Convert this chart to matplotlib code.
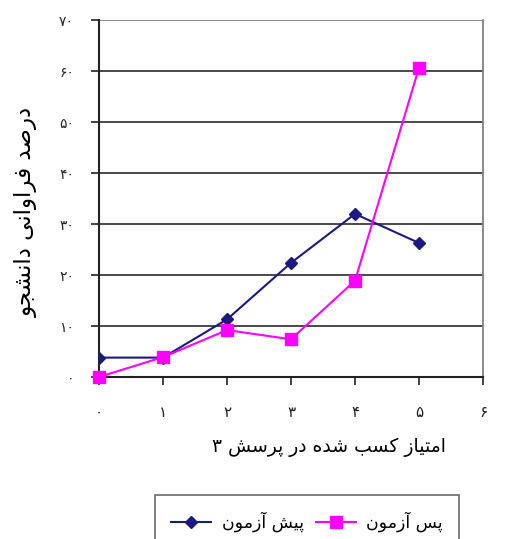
import matplotlib
matplotlib.use("Agg")
import matplotlib.pyplot as plt
from matplotlib.lines import Line2D

# Scores on question 3 and percentage of students per score
scores = [0, 1, 2, 3, 4, 5]
pre_test = [3.8, 3.8, 11.3, 22.4, 32.0, 26.3]
post_test = [0.0, 3.9, 9.2, 7.4, 18.9, 60.7]

x_ticks = [0, 1, 2, 3, 4, 5, 6]
y_ticks = [0, 10, 20, 30, 40, 50, 60, 70]

x_label = "امتیاز کسب شده در پرسش ۳"
y_label = "درصد فراوانی دانشجو"
pre_label = "پیش آزمون"
post_label = "پس آزمون"

# --- minimal Persian shaping: contextual forms + right-to-left order ---
FORMS = {  # isolated, final, initial, medial
    "ا": ("\ufe8d", "\ufe8e", None, None),
    "آ": ("\ufe81", "\ufe82", None, None),
    "ب": ("\ufe8f", "\ufe90", "\ufe91", "\ufe92"),
    "پ": ("\ufb56", "\ufb57", "\ufb58", "\ufb59"),
    "ت": ("\ufe95", "\ufe96", "\ufe97", "\ufe98"),
    "ج": ("\ufe9d", "\ufe9e", "\ufe9f", "\ufea0"),
    "د": ("\ufea9", "\ufeaa", None, None),
    "ر": ("\ufead", "\ufeae", None, None),
    "ز": ("\ufeaf", "\ufeb0", None, None),
    "س": ("\ufeb1", "\ufeb2", "\ufeb3", "\ufeb4"),
    "ش": ("\ufeb5", "\ufeb6", "\ufeb7", "\ufeb8"),
    "ص": ("\ufeb9", "\ufeba", "\ufebb", "\ufebc"),
    "ف": ("\ufed1", "\ufed2", "\ufed3", "\ufed4"),
    "ک": ("\ufb8e", "\ufb8f", "\ufb90", "\ufb91"),
    "م": ("\ufee1", "\ufee2", "\ufee3", "\ufee4"),
    "ن": ("\ufee5", "\ufee6", "\ufee7", "\ufee8"),
    "ه": ("\ufee9", "\ufeea", "\ufeeb", "\ufeec"),
    "و": ("\ufeed", "\ufeee", None, None),
    "ی": ("\ufbfc", "\ufbfd", "\ufbfe", "\ufbff"),
}


def shape(text):
    out = []
    for i, ch in enumerate(text):
        if ch not in FORMS:
            out.append(ch)
            continue
        prev = text[i - 1] if i > 0 else ""
        nxt = text[i + 1] if i + 1 < len(text) else ""
        joins_prev = prev in FORMS and FORMS[prev][2] is not None
        joins_next = FORMS[ch][2] is not None and nxt in FORMS
        iso, fin, ini, med = FORMS[ch]
        if joins_prev and joins_next:
            out.append(med)
        elif joins_prev:
            out.append(fin)
        elif joins_next:
            out.append(ini)
        else:
            out.append(iso)
    return "".join(reversed(out))


def fa_num(n):
    return "".join(chr(0x06F0 + int(d)) for d in str(n))


plt.rcParams["font.family"] = ["DejaVu Sans"]

fig = plt.figure(figsize=(5.09, 5.39), dpi=100)
ax = fig.add_axes([0.1945, 0.3006, 0.7545, 0.6618])

navy = "#1a1a80"
magenta = "#ff00ff"

for y in y_ticks[1:-1]:
    ax.axhline(y, color="#3a3a3a", lw=1.3, zorder=1)
ax.axhline(70, color="#808080", lw=1.3, zorder=1)

ax.plot(scores, pre_test, color=navy, lw=1.5, marker="D", ms=6.5,
        mfc=navy, mec=navy, zorder=3)
ax.plot(scores, post_test, color=magenta, lw=1.5, marker="s", ms=8,
        mfc=magenta, mec=magenta, zorder=4, clip_on=False)

ax.set_xlim(0, 6)
ax.set_ylim(0, 70)
ax.set_xticks(x_ticks)
ax.set_xticklabels([fa_num(v) for v in x_ticks])
ax.set_yticks(y_ticks)
ax.set_yticklabels([fa_num(v) for v in y_ticks])
ax.tick_params(axis="x", direction="out", length=6, width=1.2, pad=14,
               labelsize=11, colors="#222222")
ax.tick_params(axis="y", direction="out", length=6, width=1.2, pad=12,
               labelsize=10, colors="#222222")

for side in ("left", "bottom"):
    ax.spines[side].set_color("#222222")
    ax.spines[side].set_linewidth(1.5)
ax.spines["right"].set_color("#808080")
ax.spines["right"].set_linewidth(1.3)
ax.spines["top"].set_visible(False)

ax.set_xlabel(shape(x_label), fontsize=13.5)
ax.xaxis.set_label_coords(0.599, -0.17)
ax.set_ylabel(shape(y_label), fontsize=16.5)
ax.yaxis.set_label_coords(-0.158, 0.462)

handles = [
    Line2D([], [], color=navy, lw=1.5, marker="D", ms=6, mfc=navy, mec=navy),
    Line2D([], [], color=magenta, lw=1.5, marker="s", ms=8, mfc=magenta, mec=magenta),
]
leg = fig.legend(handles, [shape(pre_label), shape(post_label)], ncol=2,
                 loc="upper left", bbox_to_anchor=(0.3045, 0.0816),
                 borderaxespad=0, fontsize=12.5, frameon=True, fancybox=False,
                 edgecolor="#444444", handlelength=2.3, handletextpad=0.6,
                 columnspacing=0.7, borderpad=0.95)
leg.get_frame().set_linewidth(1.2)

fig.savefig("out.png", dpi=100)
